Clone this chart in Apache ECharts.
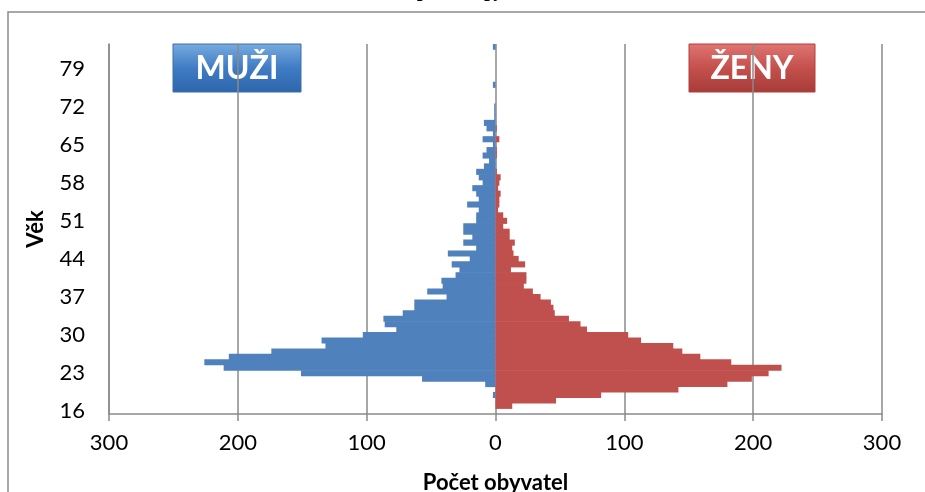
<!DOCTYPE html>
<html>
<head>
<meta charset="utf-8">
<script src="https://cdn.jsdelivr.net/npm/echarts@6/dist/echarts.min.js"></script>
<style>
    html, body { margin: 0; padding: 0; background: #fff; }
    #chart { width: 925px; height: 492px; }
</style>
</head>
<body>
<div id="chart"></div>
<script>
// věk 16..83
let ages = [];
for (let a = 16; a <= 83; a++) {
    ages.push(String(a));
}

// muži (počet, kladně; do grafu jdou záporně)
let muzi = [
    0, 0, 0, 2, 0, 8, 57, 151, 211, 226,
    207, 174, 132, 135, 103, 77, 86, 87, 72, 63,
    63, 38, 53, 41, 42, 31, 28, 34, 20, 37,
    15, 25, 18, 25, 25, 15, 15, 13, 22, 13,
    15, 18, 10, 13, 15, 9, 5, 10, 7, 2,
    10, 2, 7, 9, 1, 1, 1, 0, 0, 0,
    2, 0, 0, 0, 0, 0, 0, 2
];

// ženy
let zeny = [
    0, 13, 47, 82, 142, 180, 199, 212, 222, 183,
    159, 145, 138, 113, 103, 71, 66, 57, 46, 45,
    43, 35, 29, 22, 24, 24, 12, 23, 18, 14,
    13, 15, 11, 11, 6, 9, 6, 2, 3, 3,
    4, 2, 3, 4, 1, 0, 0, 1, 1, 0,
    3, 0, 1, 0, 0, 0, 0, 0, 0, 0,
    0, 0, 0, 0, 0, 0, 0, 0
];

let xTicks = [-300, 300, 100];

let chart = echarts.init(document.getElementById('chart'));
let font = 'Lato';
let grey = '#8a8a8a';

let box = function (x, y, w, h, text, c0, c1, c2, stroke) {
    return {
        type: 'group',
        children: [
            {
                type: 'rect',
                shape: {x: x, y: y, width: w, height: h},
                style: {
                    fill: new echarts.graphic.LinearGradient(0, 0, 0, 1, [
                        {offset: 0, color: c0},
                        {offset: 0.5, color: c1},
                        {offset: 1, color: c2}
                    ]),
                    stroke: stroke,
                    lineWidth: 1
                }
            },
            {
                type: 'text',
                x: x + w / 2,
                y: y + h / 2 + 1,
                style: {
                    text: text,
                    fill: '#fff',
                    font: 'bold 32px ' + font,
                    align: 'center',
                    verticalAlign: 'middle'
                }
            }
        ]
    };
};

let option = {
    animation: false,
    grid: {left: 109, right: 43, top: 44, bottom: 78, outerBoundsMode: 'none', containLabel: false},
    graphic: [
        {
            type: 'rect',
            shape: {x: 8, y: 12, width: 940, height: 500},
            style: {fill: 'none', stroke: grey, lineWidth: 1.5}
        },
        {
            type: 'text',
            x: 480,
            y: -9.5,
            style: {
                text: 'Populační pyramida',
                fill: '#000',
                font: 'italic bold 20px "Liberation Serif"',
                align: 'center',
                verticalAlign: 'middle'
            }
        },
        box(173, 44, 128, 48, 'MUŽI', '#79acdf', '#3f7cc4', '#2d66ab', '#3a6ea8'),
        box(689, 44, 126, 48, 'ŽENY', '#df7572', '#c4504c', '#a63c39', '#b53f3c')
    ],
    xAxis: {
        type: 'value',
        min: xTicks[0],
        max: xTicks[1],
        interval: xTicks[2],
        name: 'Počet obyvatel',
        nameLocation: 'middle',
        nameGap: 58,
        nameTextStyle: {fontFamily: font, fontWeight: 'bold', fontSize: 22, color: '#000'},
        axisLine: {show: true, lineStyle: {color: grey, width: 1.5}},
        axisTick: {show: true, length: 7, lineStyle: {color: grey, width: 1.5}},
        axisLabel: {
            fontFamily: font, fontSize: 22, color: '#000', margin: 18,
            formatter: function (v) {
                return Math.abs(v);
            }
        },
        splitLine: {show: true, lineStyle: {color: grey, width: 1.5}}
    },
    yAxis: {
        type: 'category',
        data: ages,
        name: 'Věk',
        nameLocation: 'middle',
        nameGap: 62,
        nameMoveOverlap: false,
        nameTextStyle: {fontFamily: font, fontWeight: 'bold', fontSize: 22, color: '#000'},
        axisLine: {show: true, onZero: false, lineStyle: {color: grey, width: 1.5}},
        axisTick: {show: false},
        axisLabel: {interval: 6, fontFamily: font, fontSize: 22, color: '#000', margin: 24}
    },
    series: [
        {
            name: 'Muži',
            type: 'bar',
            stack: 'p',
            barWidth: '112%',
            itemStyle: {color: '#4f81bd'},
            data: muzi.map(function (v) {
                return -v;
            })
        },
        {
            name: 'Ženy',
            type: 'bar',
            stack: 'p',
            barWidth: '112%',
            itemStyle: {color: '#c0504d'},
            data: zeny
        }
    ]
};
chart.setOption(option);
</script>
</body>
</html>
